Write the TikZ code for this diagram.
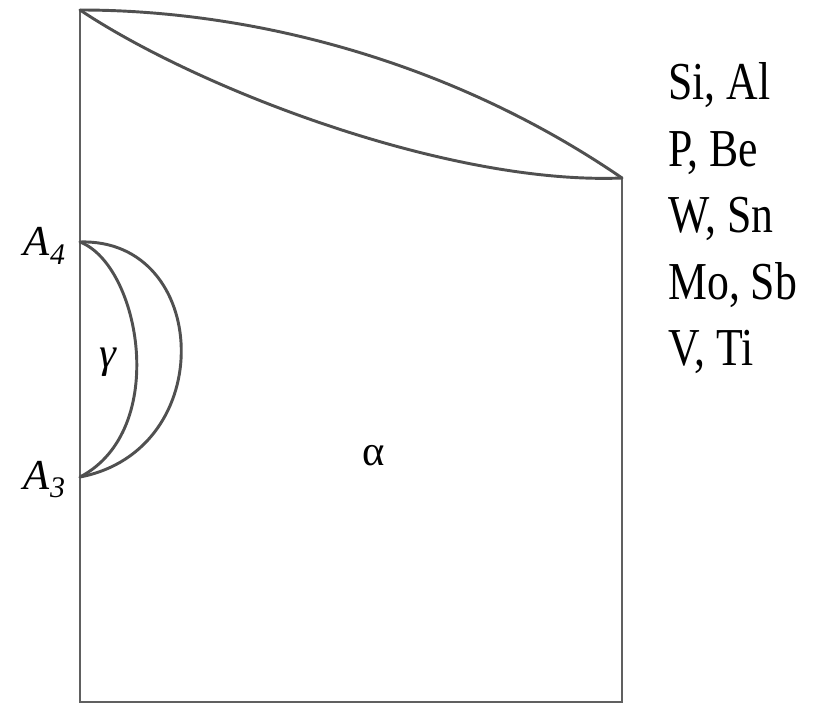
\documentclass[tikz,border=0pt]{standalone}
\usepackage{fontspec}
\setmainfont{Liberation Serif}
\newfontfamily\narrowserif[FakeStretch=0.82]{Liberation Serif}
\definecolor{curvegray}{HTML}{505050}
\definecolor{boxgray}{HTML}{606060}
\begin{document}
\begin{tikzpicture}[x=0.75pt,y=-0.75pt,
  boxline/.style={draw=boxgray,line width=1.3pt},
  curveline/.style={draw=curvegray,line width=2.2pt,line cap=round,line join=round},
  elemtext/.style={font=\narrowserif\fontsize{40}{49.5}\selectfont,anchor=base west,inner sep=0pt},
  axislabel/.style={font=\fontsize{32}{36}\selectfont,anchor=base east,inner sep=0pt},
  phaselabel/.style={font=\fontsize{32}{36}\selectfont,inner sep=0pt}]
\useasboundingbox (0,0) rectangle (813,705);
% frame corners
\coordinate (TL) at (80,10);
\coordinate (TR) at (622,178);
\coordinate (BL) at (80,702);
\coordinate (BR) at (622,702);
\coordinate (A4) at (80,242);
\coordinate (A3) at (80,477);
% frame
\draw[boxline] (TL) -- (BL) -- (BR) -- (TR);
% top lens
\draw[curveline] (TL) .. controls (250,10) and (450,60) .. (TR);
\draw[curveline] (TL) .. controls (200,90) and (450,185) .. (TR);
% gamma loop
\draw[curveline] (A4) .. controls (210,238) and (220,450) .. (A3);
\draw[curveline] (A4) .. controls (140,265) and (170,430) .. (A3);
% labels
\node[axislabel] (lA4) at (66,256) {\textit{A}\textsubscript{\itshape 4}};
\node[axislabel] (lA3) at (66,489) {\textit{A}\textsubscript{\itshape 3}};
\node[phaselabel] (gamma) at (108,362) {\textit{γ}};
\node[phaselabel] (alpha) at (374,456) {α};
\node[elemtext] (e1) at (668,100) {Si, Al};
\node[elemtext] (e2) at (668,167) {P, Be};
\node[elemtext] (e3) at (668,233) {W, Sn};
\node[elemtext] (e4) at (668,300) {Mo, Sb};
\node[elemtext] (e5) at (668,366) {V, Ti};
\end{tikzpicture}
\end{document}
